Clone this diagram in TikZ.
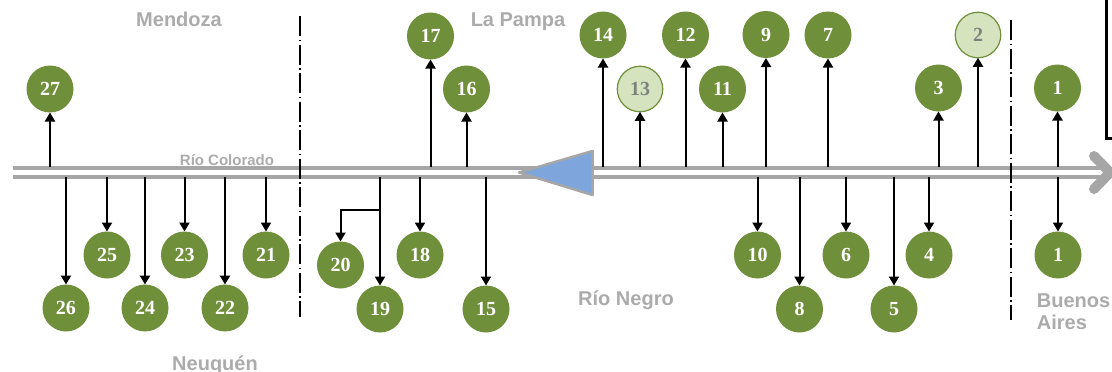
\documentclass[tikz,border=0pt]{standalone}
\usepackage{fontspec}
\setmainfont{Liberation Serif}
\newfontfamily\regionfont{Liberation Sans}
\usetikzlibrary{arrows.meta}
\definecolor{sitegreen}{HTML}{6F8F3A}
\definecolor{sitepale}{HTML}{D6E3BF}
\definecolor{regiongray}{HTML}{ABABAB}
\definecolor{rivergray}{HTML}{A6A6A6}
\definecolor{damblue}{HTML}{7EA6DC}
\tikzset{
  site/.style={circle, fill=sitegreen, text=white, minimum size=47pt, inner sep=0pt, outer sep=0pt,
    font=\bfseries\fontsize{20}{20}\selectfont},
  sitepaled/.style={site, fill=sitepale, draw=sitegreen, line width=1.2pt, minimum size=45.5pt, text=gray},
  flow/.style={line width=2pt, -{Triangle[length=9pt,width=10pt]}},
  river/.style={line width=4pt, rivergray},
  border/.style={line width=2pt, dash pattern=on 20pt off 3.5pt on 1.5pt off 3.5pt},
  region/.style={regiongray, anchor=base, inner sep=0pt, font=\regionfont\bfseries\fontsize{20}{22.5}\selectfont}
}

\begin{document}
\begin{tikzpicture}[x=1pt, y=-1pt]
    \clip (0,0) rectangle (1112,372);

    % River and dam
    \draw[river] (13,168) -- (1108,168);
    \draw[river] (13,177) -- (1108,177);
    \draw[rivergray, line width=10pt, line cap=round, line join=round] (1094,156) -- (1110,172.5) -- (1094,189);
    \draw[rivergray, line width=2.5pt, line join=round, fill=damblue] (519,172.5) -- (592.5,151) -- (592.5,195) -- cycle;

    % Province borders
    \draw[border] (299.5,16) -- (299.5,317);
    \draw[border] (1011,20) -- (1011,320);

    % Corner of the key box
    \draw[line width=3pt] (1106,-5) -- (1106,138.5) -- (1118,138.5);

    % Sites above the river
    \node[site] (n27) at (50,89) {27};
    \node[site] (n17) at (430.5,36) {17};
    \node[site] (n16) at (466.5,89) {16};
    \node[site] (n14) at (603,35) {14};
    \node[sitepaled] (n13) at (640,89) {13};
    \node[site] (n12) at (685.5,35) {12};
    \node[site] (n11) at (722.5,89) {11};
    \node[site] (n9) at (766,34.5) {9};
    \node[site] (n7) at (828,35) {7};
    \node[site] (n3) at (938.5,88) {3};
    \node[sitepaled] (n2) at (978,35) {2};
    \node[site] (n1a) at (1057.5,88) {1};

    % Sites below the river
    \node[site] (n26) at (66,308) {26};
    \node[site] (n25) at (107,255) {25};
    \node[site] (n24) at (145,308) {24};
    \node[site] (n23) at (184.5,255) {23};
    \node[site] (n22) at (225,308) {22};
    \node[site] (n21) at (266,255) {21};
    \node[site] (n20) at (340.5,265) {20};
    \node[site] (n19) at (380,309) {19};
    \node[site] (n18) at (420,255) {18};
    \node[site] (n15) at (486,309) {15};
    \node[site] (n10) at (757.5,255) {10};
    \node[site] (n8) at (799.5,309) {8};
    \node[site] (n6) at (846,255) {6};
    \node[site] (n5) at (894,309) {5};
    \node[site] (n4) at (929,255) {4};
    \node[site] (n1b) at (1058,255) {1};

    % Outfalls, upwards
    \foreach \n/\x in {27/50,17/430.5,16/466.5,14/603,13/640,12/685.5,11/722.5,9/766,7/828,3/938.5,2/978,1a/1057.5}
        \coordinate (r\n) at (\x,167);
    \foreach \n in {27,17,16,14,13,12,11,9,7,3,2,1a}
        \draw[flow] (r\n) -- (n\n);

    % Intakes, downwards
    \foreach \n/\x in {26/66,25/107,24/145,23/184.5,22/225,21/266,19/380,18/420,15/486,10/757.5,8/799.5,6/846,5/894,4/929,1b/1058}
        \coordinate (r\n) at (\x,177);
    \foreach \n in {26,25,24,23,22,21,19,18,15,10,8,6,5,4,1b}
        \draw[flow] (r\n) -- (n\n);

    % Branch to 20
    \coordinate (b20) at (380,210);
    \draw[flow] (b20) -| (n20);

    % Labels
    \node[region] (mendoza) at (179,26.7) {Mendoza};
    \node[region] (pampa) at (518,27) {La Pampa};
    \node[region] (negro) at (626,305.7) {Río Negro};
    \node[region] (neuquen) at (215,370) {Neuquén};
    \node[region, align=left, anchor=north west] (buenos) at (1036.7,293.5) {Buenos\\Aires};
    \node[region, font=\regionfont\bfseries\fontsize{15}{15}\selectfont] (colorado) at (227,165.7) {Río Colorado};
\end{tikzpicture}
\end{document}
